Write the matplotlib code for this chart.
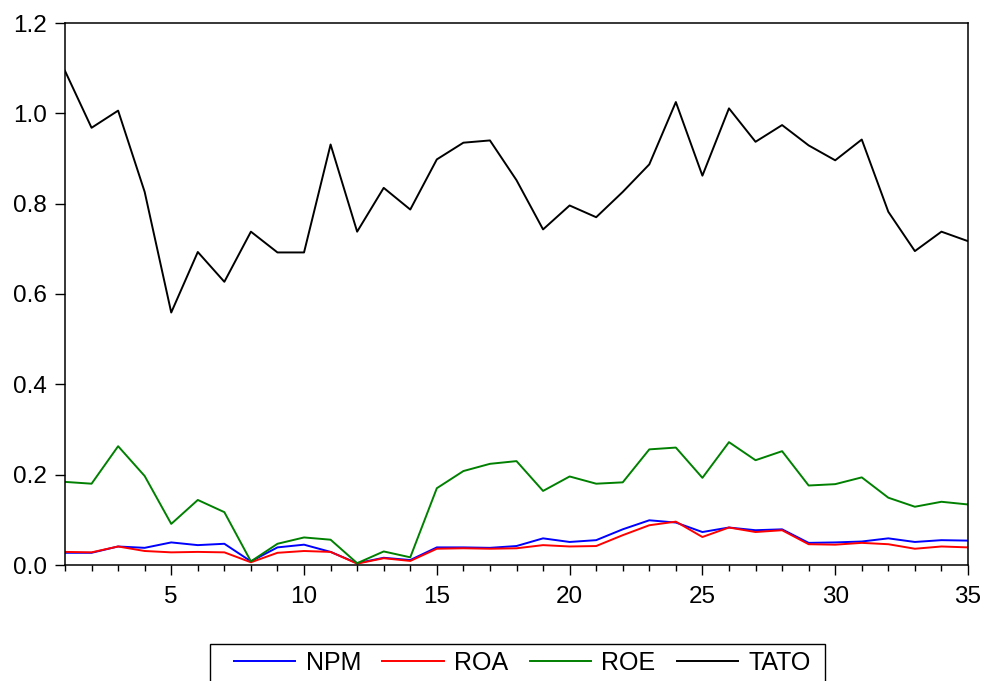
import matplotlib
matplotlib.use("Agg")
import matplotlib.pyplot as plt
from matplotlib.patches import Rectangle
import numpy as np

plt.rcParams['font.family'] = ['Liberation Sans', 'DejaVu Sans']

obs = np.arange(1, 36)

npm = [0.027, 0.027, 0.041, 0.038, 0.050, 0.044, 0.047, 0.008, 0.039, 0.045,
       0.029, 0.004, 0.016, 0.011, 0.039, 0.039, 0.038, 0.042, 0.059, 0.051,
       0.055, 0.079, 0.099, 0.094, 0.073, 0.083, 0.077, 0.079, 0.049, 0.050,
       0.052, 0.059, 0.051, 0.055, 0.054]
roa = [0.029, 0.028, 0.041, 0.031, 0.028, 0.029, 0.028, 0.006, 0.027, 0.031,
       0.029, 0.003, 0.015, 0.009, 0.036, 0.037, 0.036, 0.037, 0.044, 0.041,
       0.042, 0.066, 0.088, 0.096, 0.062, 0.083, 0.073, 0.077, 0.046, 0.045,
       0.049, 0.046, 0.036, 0.041, 0.039]
roe = [0.184, 0.180, 0.263, 0.197, 0.091, 0.144, 0.117, 0.008, 0.047, 0.061,
       0.056, 0.004, 0.030, 0.017, 0.170, 0.208, 0.224, 0.230, 0.164, 0.196,
       0.180, 0.183, 0.256, 0.260, 0.193, 0.272, 0.232, 0.252, 0.176, 0.179,
       0.194, 0.149, 0.129, 0.140, 0.134]
tato = [1.094, 0.968, 1.006, 0.826, 0.559, 0.693, 0.627, 0.738, 0.692, 0.692,
        0.931, 0.738, 0.835, 0.787, 0.898, 0.935, 0.940, 0.852, 0.743, 0.796,
        0.770, 0.826, 0.887, 1.025, 0.862, 1.011, 0.937, 0.974, 0.929, 0.896,
        0.942, 0.782, 0.695, 0.738, 0.717]

W, H = 984, 681
fig = plt.figure(figsize=(W / 100, H / 100), dpi=100)
ax = fig.add_axes([65 / W, 1 - 565 / H, 903 / W, 542 / H])

lw = 1.4
ax.plot(obs, npm, color='#0000ff', lw=lw, label='NPM')
ax.plot(obs, roa, color='#ff0000', lw=lw, label='ROA')
ax.plot(obs, roe, color='#008000', lw=lw, label='ROE')
ax.plot(obs, tato, color='black', lw=lw, label='TATO')

ax.set_xlim(1, 35)
ax.set_ylim(0, 1.2)
ax.set_xticks(obs, minor=True)
ax.set_xticks([5, 10, 15, 20, 25, 30, 35])
ax.set_yticks([0.0, 0.2, 0.4, 0.6, 0.8, 1.0, 1.2])
ax.set_yticklabels(['0.0', '0.2', '0.4', '0.6', '0.8', '1.0', '1.2'])
ax.tick_params(axis='both', which='both', direction='out', labelsize=17.5,
               top=False, right=False, width=1)
ax.tick_params(axis='x', which='major', length=7.2, pad=8)
ax.tick_params(axis='x', which='minor', length=4.3)
ax.tick_params(axis='y', length=7, pad=6)
for s in ax.spines.values():
    s.set_linewidth(1.1)

# legend box, cut by the bottom edge as in the original
fig.patches.append(Rectangle((210 / W, -0.05), 615 / W, 0.05 + 1 - 644 / H,
                             transform=fig.transFigure, fill=False,
                             edgecolor='black', lw=1.0))
leg = ax.legend(loc='center left', bbox_to_anchor=(234 / W, 1 - 663 / H),
                bbox_transform=fig.transFigure, ncol=4, fontsize=18,
                frameon=False, borderpad=0, borderaxespad=0,
                handlelength=2.45, columnspacing=0.85, handletextpad=0.42)

fig.savefig('out.png', dpi=100)
